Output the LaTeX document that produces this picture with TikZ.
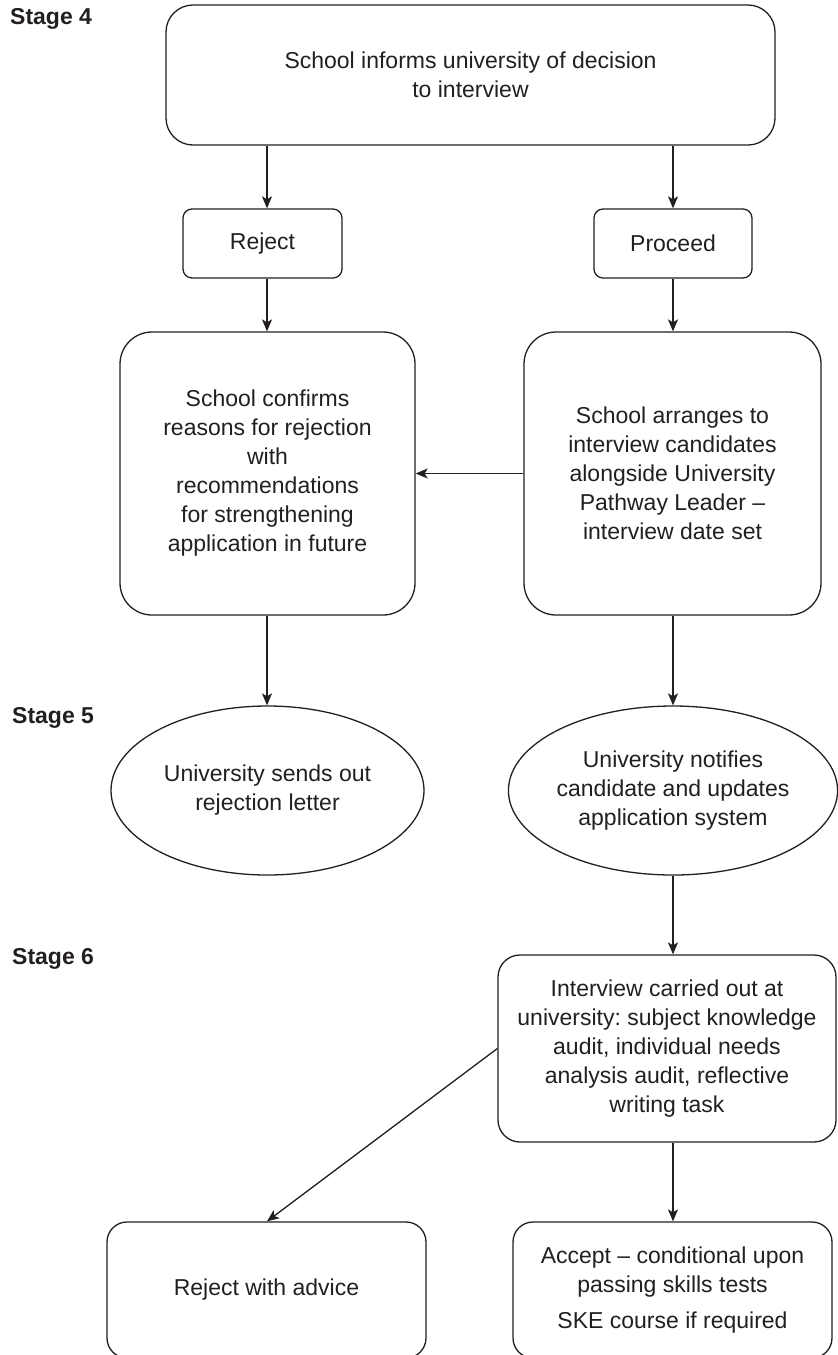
\documentclass[tikz,border=0pt]{standalone}
\usepackage{fontspec}
\setmainfont{Liberation Sans}
\usetikzlibrary{arrows.meta,shapes.geometric}
\definecolor{ink}{HTML}{231F20}
\frenchspacing
\begin{document}
\begin{tikzpicture}[x=1pt,y=-1pt,
  every node/.style={text=ink, font=\fontsize{23}{29}\selectfont},
  box/.style={draw=ink, line width=1.3pt, rectangle, inner sep=0pt, align=center},
  ell/.style={draw=ink, line width=1.3pt, ellipse, inner sep=0pt, align=center},
  arr/.style={draw=ink, line width=1.3pt, -{Stealth[length=12pt,width=10pt,inset=3pt]}},
  stagelabel/.style={font=\fontsize{23}{29}\selectfont\bfseries, anchor=west, inner sep=0pt}]
\useasboundingbox (0,0) rectangle (838,1355);
\clip (0,0) rectangle (838,1355);
\fill[white] (0,0) rectangle (838,1355);

% stage labels
\node[stagelabel] (s4) at (10,19) {Stage 4};
\node[stagelabel] (s5) at (12,718) {Stage 5};
\node[stagelabel] (s6) at (12,959) {Stage 6};

% boxes
\node[box, minimum width=609pt, minimum height=140pt, rounded corners=27pt] (top) at (470.5,75)
  {School informs university of decision\\to interview};
\node[box, minimum width=159pt, minimum height=69pt, rounded corners=9pt] (reject) at (262.5,243.5) {Reject};
\node[box, minimum width=158pt, minimum height=69pt, rounded corners=9pt] (proceed) at (673,243.5) {Proceed};
\node[box, minimum width=295pt, minimum height=283pt, rounded corners=32pt] (lbig) at (267.5,473.5)
  {School confirms\\reasons for rejection\\with\\recommendations\\for strengthening\\application in future};
\node[box, minimum width=297pt, minimum height=283pt, rounded corners=32pt] (rbig) at (672.5,473.5)
  {School arranges to\\interview candidates\\alongside University\\Pathway Leader --\\interview date set};
\node[ell, minimum width=313pt, minimum height=169pt] (lell) at (267.5,790.5)
  {University sends out\\rejection letter};
\node[ell, minimum width=314pt, minimum height=169pt] (rell) at (673,790.5)
  {University notifies\\candidate and updates\\application system};
\node[box, minimum width=338pt, minimum height=187pt, rounded corners=22pt] (interview) at (667,1048.5)
  {Interview carried out at\\university: subject knowledge\\audit, individual needs\\analysis audit, reflective\\writing task};
\node[box, minimum width=319pt, minimum height=136pt, rounded corners=20pt] (rejadv) at (266.5,1290)
  {Reject with advice};
\node[box, minimum width=319pt, minimum height=136pt, rounded corners=20pt] (acc) at (672.5,1290)
  {Accept -- conditional upon\\passing skills tests\\[7pt]SKE course if required};

% connectors
\coordinate (xl) at (267,0);
\coordinate (xr) at (673,0);
\draw[arr] (top.south -| xl) -- (reject.north -| xl);
\draw[arr] (top.south -| xr) -- (proceed.north -| xr);
\draw[arr] (reject.south -| xl) -- (lbig.north -| xl);
\draw[arr] (proceed.south -| xr) -- (rbig.north -| xr);
\draw[arr] (rbig.west) -- (lbig.east);
\draw[arr] (lbig.south -| xl) -- (lell.north -| xl);
\draw[arr] (rbig.south -| xr) -- (rell.north -| xr);
\draw[arr] (rell.south -| xr) -- (interview.north -| xr);
\draw[arr] (interview.south -| xr) -- (acc.north -| xr);
\draw[arr] (interview.west) -- (rejadv.north -| xl);
\end{tikzpicture}
\end{document}
